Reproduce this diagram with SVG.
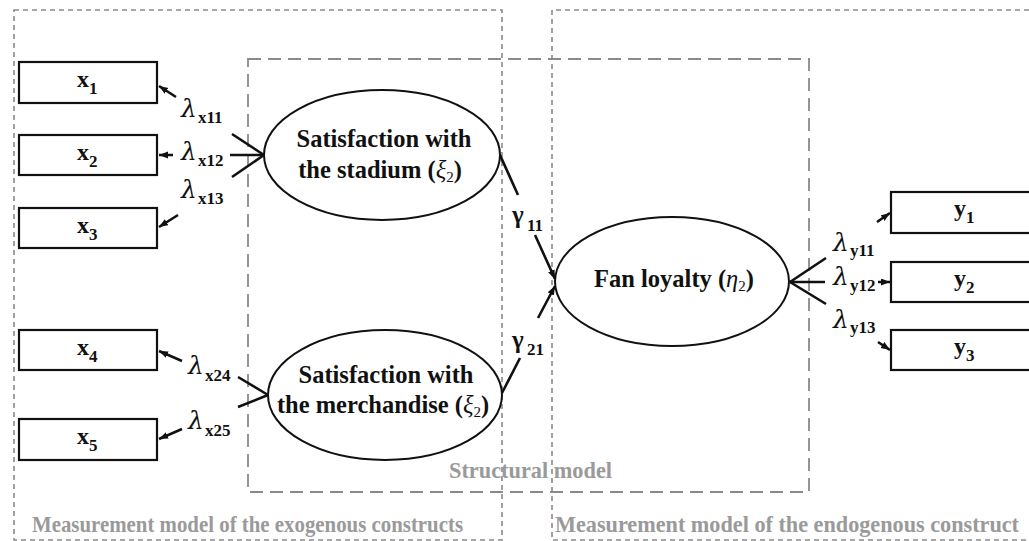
<svg xmlns="http://www.w3.org/2000/svg" width="1029" height="541" viewBox="0 0 1029 541">
<style>
.outer{fill:none;stroke:#8a8a8a;stroke-width:1.6;stroke-dasharray:5 4}
.struct{fill:none;stroke:#8a8a8a;stroke-width:1.8;stroke-dasharray:13 7}
.box{fill:#fff;stroke:#111;stroke-width:2.2}
.ell{fill:#fff;stroke:#111;stroke-width:2}
.conn{fill:none;stroke:#111;stroke-width:2.6;marker-end:url(#ah)}
.t{font-family:"Liberation Serif","Times New Roman",serif;font-weight:bold;fill:#111}
.big{font-size:24.5px}
.node{font-size:24px}
.sub{font-size:17px}
.lam{font-family:"DejaVu Serif","Liberation Serif",serif;font-style:italic;font-size:25px;fill:#111}
.gam{font-family:"Liberation Serif","Times New Roman",serif;font-weight:bold;font-size:25px;fill:#111}
.lsub{font-family:"Liberation Serif","Times New Roman",serif;font-weight:bold;font-size:17px;fill:#111}
.cap{font-family:"Liberation Serif","Times New Roman",serif;font-weight:bold;font-size:23px;fill:#9a9a9a}
</style>
<defs>
<marker id="ah" markerUnits="userSpaceOnUse" markerWidth="10" markerHeight="8" refX="9" refY="3.5" orient="auto">
<path d="M0,0 L9,3.5 L0,7 z" fill="#111"/>
</marker>
</defs>

<g id="frames">
<rect class="outer" x="14" y="10" width="488" height="530"/>
<path class="outer" d="M1029,10 H552 V540 H1029"/>
<rect class="struct" x="248" y="59" width="561" height="433"/>
<text class="cap" x="449" y="478" textLength="163" lengthAdjust="spacingAndGlyphs">Structural model</text>
<text class="cap" x="32" y="532" textLength="431" lengthAdjust="spacingAndGlyphs">Measurement model of the exogenous constructs</text>
<text class="cap" x="555" y="532" font-size="22" textLength="464" lengthAdjust="spacingAndGlyphs">Measurement model of the endogenous construct</text>
</g>

<g id="connectors">
<path class="conn" d="M264,155 L232,134 M176,97 L159,86"/>
<path class="conn" d="M264,155 L230,155 M173,155 L159,155"/>
<path class="conn" d="M264,155 L232,177 M178,215 L159,227"/>
<path class="conn" d="M268,395 L238,377 M182,361 L159,351"/>
<path class="conn" d="M268,395 L238,407 M182,429 L159,439"/>
<path class="conn" d="M500,155 L518,195 M535,235 L555,279"/>
<path class="conn" d="M502,393 L520,358 M538,318 L555,286"/>
<path class="conn" d="M790,282 L826,258 M877,222 L890,213"/>
<path class="conn" d="M790,282 L825,282 M878,282 L890,282"/>
<path class="conn" d="M790,282 L826,304 M878,342 L890,350"/>
<text class="lam" x="181" y="117">λ</text><text class="lsub" x="198" y="123">x11</text>
<text class="lam" x="181" y="160">λ</text><text class="lsub" x="198" y="166">x12</text>
<text class="lam" x="181" y="198">λ</text><text class="lsub" x="198" y="204">x13</text>
<text class="lam" x="188" y="374">λ</text><text class="lsub" x="205" y="381">x24</text>
<text class="lam" x="188" y="429">λ</text><text class="lsub" x="205" y="436">x25</text>
<text class="lam" x="833" y="251">λ</text><text class="lsub" x="850" y="256">y11</text>
<text class="lam" x="833" y="285">λ</text><text class="lsub" x="850" y="291">y12</text>
<text class="lam" x="833" y="328">λ</text><text class="lsub" x="850" y="333">y13</text>
<text class="gam" x="512" y="223">γ</text><text class="lsub" x="527" y="231">11</text>
<text class="gam" x="512" y="348">γ</text><text class="lsub" x="527" y="355">21</text>
</g>

<g id="x1"><rect class="box" x="19" y="62" width="138" height="41"/><text class="t node" x="77" y="87">x<tspan class="sub" dy="7">1</tspan></text></g>
<g id="x2"><rect class="box" x="19" y="135" width="138" height="40"/><text class="t node" x="77" y="159.5">x<tspan class="sub" dy="7">2</tspan></text></g>
<g id="x3"><rect class="box" x="19" y="208" width="138" height="40"/><text class="t node" x="77" y="232.5">x<tspan class="sub" dy="7">3</tspan></text></g>
<g id="x4"><rect class="box" x="19" y="330" width="138" height="40"/><text class="t node" x="77" y="354.5">x<tspan class="sub" dy="7">4</tspan></text></g>
<g id="x5"><rect class="box" x="19" y="419" width="138" height="41"/><text class="t node" x="77" y="444">x<tspan class="sub" dy="7">5</tspan></text></g>

<g id="y1"><rect class="box" x="891" y="192" width="150" height="41"/><text class="t node" x="954" y="216">y<tspan class="sub" dy="7">1</tspan></text></g>
<g id="y2"><rect class="box" x="891" y="262" width="150" height="40"/><text class="t node" x="954" y="286">y<tspan class="sub" dy="7">2</tspan></text></g>
<g id="y3"><rect class="box" x="891" y="330" width="150" height="40"/><text class="t node" x="954" y="354">y<tspan class="sub" dy="7">3</tspan></text></g>

<g id="xi1"><ellipse class="ell" cx="382" cy="155" rx="118" ry="65"/>
<text class="t big" x="384" y="147" text-anchor="middle">Satisfaction with</text>
<text class="t big" x="380" y="178" text-anchor="middle">the stadium (<tspan font-style="italic" font-weight="normal">ξ</tspan><tspan font-size="15" font-weight="normal" dy="4">2</tspan><tspan dy="-4">)</tspan></text></g>

<g id="xi2"><ellipse class="ell" cx="385" cy="395" rx="117" ry="65"/>
<text class="t big" x="386" y="383" text-anchor="middle">Satisfaction with</text>
<text class="t big" x="383" y="413" text-anchor="middle">the merchandise (<tspan font-style="italic" font-weight="normal">ξ</tspan><tspan font-size="15" font-weight="normal" dy="4">2</tspan><tspan dy="-4">)</tspan></text></g>

<g id="eta"><ellipse class="ell" cx="672" cy="281.5" rx="117" ry="64.5"/>
<text class="t big" x="674" y="287" text-anchor="middle">Fan loyalty (<tspan font-style="italic" font-weight="normal">η</tspan><tspan font-size="15" font-weight="normal" dy="4">2</tspan><tspan dy="-4">)</tspan></text></g>
</svg>
